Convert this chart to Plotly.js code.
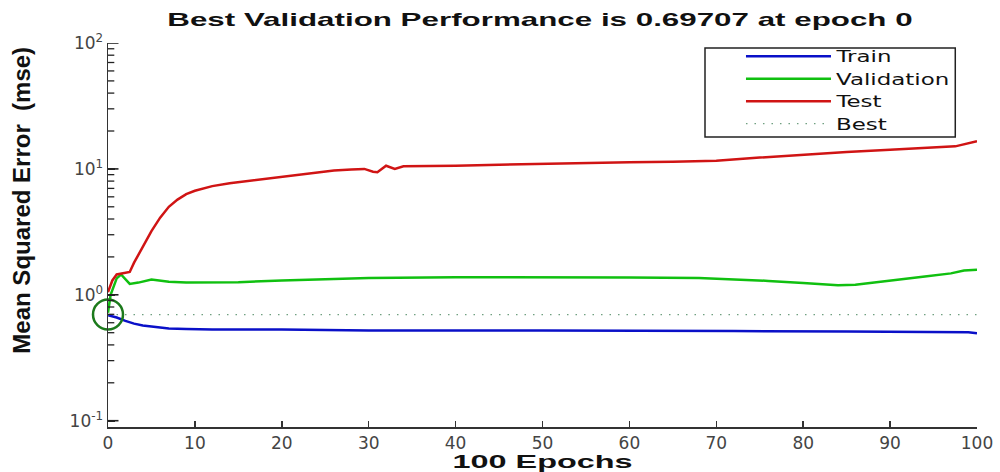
<!DOCTYPE html>
<html>
<head>
<meta charset="utf-8">
<script src="https://cdn.plot.ly/plotly-3.0.1.min.js"></script>
<style>
html,body{margin:0;padding:0;background:#fff;}
#chart{width:1000px;height:472px;}
#chart .gtitle{transform-box:fill-box;transform-origin:center;transform:scaleX(1.65);}
#chart .xtitle{transform-box:fill-box;transform-origin:center;transform:scaleX(1.8);}
#chart .legendtext{transform-box:fill-box;transform-origin:left center;transform:scaleX(1.53);}
#chart .legend .scrollbox, #chart .legend g{clip-path:none !important;}
</style>
</head>
<body>
<div id="chart"></div>
<script>
// Train (blue)
const trainEpochs = [0, 1, 2, 3, 4, 5, 7, 9, 12, 20, 25, 30, 50, 70, 72, 85, 99, 100];
const trainMse    = [0.69, 0.66, 0.62, 0.59, 0.57, 0.56, 0.54, 0.535, 0.53, 0.53, 0.525, 0.52, 0.52, 0.52, 0.515, 0.51, 0.505, 0.495];
// Validation (green)
const valEpochs = [0, 0.3, 1, 1.5, 2.5, 3.5, 5, 7, 9, 15, 20, 25, 30, 40, 50, 60, 68, 72, 76, 80, 84, 86, 88, 91, 94, 97, 98.5, 100];
const valMse    = [0.72, 1.0, 1.35, 1.45, 1.22, 1.25, 1.32, 1.27, 1.25, 1.26, 1.3, 1.33, 1.36, 1.38, 1.38, 1.37, 1.36, 1.33, 1.29, 1.24, 1.19, 1.2, 1.25, 1.33, 1.4, 1.48, 1.56, 1.58];
// Test (red)
const testEpochs = [0, 0.5, 1, 2, 2.5, 3, 4, 5, 6, 7, 8, 9, 10, 12, 14, 16, 18, 20, 22, 24, 26, 28, 29.5, 30.5, 31, 32, 33, 34, 36, 40, 45, 50, 55, 60, 65, 70, 75, 80, 85, 90, 95, 97.5, 100];
const testMse    = [1.05, 1.3, 1.45, 1.5, 1.52, 1.8, 2.4, 3.2, 4.1, 5.0, 5.7, 6.3, 6.7, 7.3, 7.7, 8.0, 8.3, 8.6, 9.0, 9.4, 9.7, 9.9, 10.0, 9.5, 9.4, 10.6, 10.0, 10.5, 10.5, 10.6, 10.8, 11.0, 11.1, 11.3, 11.4, 11.6, 12.3, 13.0, 13.6, 14.2, 14.8, 15.1, 16.6];
// Best
const bestEpoch = 0;
const bestPerf = 0.69707;
const bestEpochs = [0, 100];
const bestLine = [bestPerf, bestPerf];
// Axis ticks
const xTicks = [0, 10, 20, 30, 40, 50, 60, 70, 80, 90, 100];
const yMajorTicks = [0.1, 1, 10, 100];
const yMajorText = ['10<sup>-1</sup>', '10<sup>0</sup>', '10<sup>1</sup>', '10<sup>2</sup>'];
const minorMultipliers = [2, 3, 4, 5, 6, 7, 8, 9];
const yMinorTicks = [];
yMajorTicks.slice(0, -1).forEach(d => minorMultipliers.forEach(m => yMinorTicks.push(d * m)));

const tickFont = {family: '"DejaVu Sans", Verdana, sans-serif', size: 17, color: '#444'};
const bold = 'Arial, "Liberation Sans", sans-serif';

const traces = [
  {x: trainEpochs, y: trainMse, name: 'Train', mode: 'lines', line: {color: '#0a10c8', width: 2.5}},
  {x: valEpochs, y: valMse, name: 'Validation', mode: 'lines', line: {color: '#10c010', width: 2.5}},
  {x: testEpochs, y: testMse, name: 'Test', mode: 'lines', line: {color: '#d01414', width: 2.5}},
  {x: bestEpochs, y: bestLine, name: 'Best', mode: 'lines', line: {color: '#6f9f80', width: 1.3, dash: '1.5px,7px'}},
  {x: [bestEpoch], y: [bestPerf], name: 'best point', mode: 'markers', showlegend: false,
   marker: {symbol: 'circle-open', size: 30, color: '#1c7a1c', line: {width: 2.5, color: '#1c7a1c'}}, cliponaxis: false},
  // y-axis tick marks (clipped at the axis so only the inner half shows)
  {x: yMajorTicks.map(() => 0), y: yMajorTicks, mode: 'markers', showlegend: false, hoverinfo: 'skip', cliponaxis: true,
   marker: {symbol: 'line-ew', size: 15, color: '#222', line: {width: 1.6, color: '#222'}}},
  {x: yMinorTicks.map(() => 0), y: yMinorTicks, mode: 'markers', showlegend: false, hoverinfo: 'skip', cliponaxis: true,
   marker: {symbol: 'line-ew', size: 9, color: '#222', line: {width: 1.3, color: '#222'}}}
];

const layout = {
  width: 1000, height: 472,
  margin: {l: 108, r: 23, t: 43, b: 45},
  paper_bgcolor: '#fff', plot_bgcolor: '#fff',
  title: {text: '<b>Best Validation Performance is 0.69707 at epoch 0</b>', x: 0.54, xanchor: 'center', y: 0.96, yanchor: 'middle',
          font: {family: bold, size: 19, color: '#111'}},
  xaxis: {
    range: [0, 100], tickvals: xTicks, ticktext: xTicks.map(String),
    ticks: 'inside', ticklen: 6, tickcolor: '#333', tickwidth: 1.5,
    showline: true, linecolor: '#333', linewidth: 1.5, showgrid: false, zeroline: false,
    tickfont: tickFont,
    title: {text: '<b>100 Epochs</b>', font: {family: bold, size: 18, color: '#111'}, standoff: 0}
  },
  yaxis: {
    type: 'log', range: [-1.05, 2.0], tickmode: 'array', tickvals: yMajorTicks, ticktext: yMajorText,
    ticks: 'inside', ticklen: 7, tickcolor: '#222', tickwidth: 1.6,
    showline: true, linecolor: '#333', linewidth: 1.5, showgrid: false, zeroline: false,
    tickfont: tickFont
  },
  shapes: [{
    type: 'rect', xref: 'paper', yref: 'paper', x0: 0.687, x1: 0.975, y0: 0.755, y1: 0.987,
    fillcolor: '#fff', line: {color: '#222', width: 1.5}, layer: 'above'
  }],
  annotations: [{
    text: '<b>Mean Squared Error  (mse)</b>', textangle: -90, showarrow: false,
    xref: 'paper', yref: 'paper', x: -0.099, y: 0.592, xanchor: 'center', yanchor: 'middle',
    font: {family: bold, size: 24, color: '#111'}
  }],
  legend: {
    x: 0.7284, xanchor: 'left', y: 1.008, yanchor: 'top',
    bgcolor: 'rgba(0,0,0,0)', borderwidth: 0,
    font: {family: '"DejaVu Sans", Verdana, sans-serif', size: 15, color: '#111'},
    tracegroupgap: 0, itemwidth: 85
  },
  showlegend: true
};

Plotly.newPlot('chart', traces, layout, {displayModeBar: false, staticPlot: true});
</script>
</body>
</html>
